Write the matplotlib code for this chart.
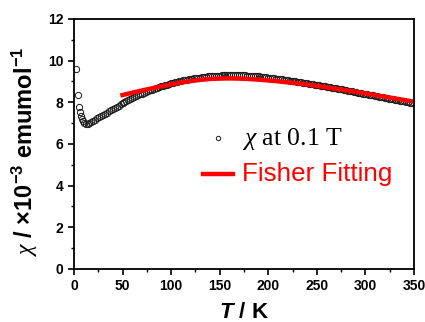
import matplotlib
matplotlib.use("Agg")
import matplotlib.pyplot as plt
import numpy as np

plt.rcParams['font.family'] = 'Liberation Sans'
plt.rcParams['mathtext.fontset'] = 'custom'
plt.rcParams['mathtext.rm'] = 'Liberation Sans:bold'
plt.rcParams['mathtext.it'] = 'Liberation Sans:italic:bold'
plt.rcParams['mathtext.sf'] = 'Liberation Serif:italic'
plt.rcParams['mathtext.bf'] = 'Liberation Sans:bold'

# measured susceptibility (x10^-3 emu/mol) vs temperature (K)
temp_low = [2.5, 4.5, 5.5, 6.2, 7, 8, 9]
chi_low = [9.58, 8.35, 7.78, 7.55, 7.35, 7.20, 7.08]

temp_main = list(range(10, 351, 2))
chi_main = [7.00, 6.97, 6.98, 7.02, 7.07, 7.12, 7.17, 7.23, 7.29, 7.35,
            7.40, 7.46, 7.51, 7.57, 7.62, 7.68, 7.73, 7.79, 7.84, 7.90,
            7.95, 8.00, 8.05, 8.10, 8.15, 8.20, 8.25, 8.29, 8.34, 8.38,
            8.42, 8.46, 8.50, 8.53, 8.57, 8.60, 8.64, 8.67, 8.70, 8.74,
            8.77, 8.80, 8.83, 8.85, 8.88, 8.91, 8.94, 8.96, 8.99, 9.01,
            9.03, 9.05, 9.07, 9.09, 9.10, 9.12, 9.14, 9.15, 9.17, 9.18,
            9.19, 9.21, 9.22, 9.23, 9.24, 9.25, 9.26, 9.26, 9.27, 9.28,
            9.28, 9.29, 9.29, 9.29, 9.30, 9.30, 9.30, 9.30, 9.30, 9.30,
            9.30, 9.29, 9.29, 9.29, 9.28, 9.28, 9.27, 9.26, 9.26, 9.25,
            9.24, 9.23, 9.22, 9.21, 9.20, 9.19, 9.18, 9.16, 9.15, 9.14,
            9.13, 9.11, 9.10, 9.08, 9.07, 9.06, 9.04, 9.03, 9.01, 9.00,
            8.99, 8.97, 8.96, 8.94, 8.93, 8.91, 8.89, 8.88, 8.86, 8.85,
            8.83, 8.81, 8.80, 8.78, 8.77, 8.75, 8.73, 8.72, 8.70, 8.69,
            8.67, 8.65, 8.64, 8.62, 8.60, 8.58, 8.56, 8.54, 8.53, 8.51,
            8.49, 8.47, 8.45, 8.44, 8.42, 8.40, 8.38, 8.36, 8.35, 8.33,
            8.31, 8.29, 8.27, 8.26, 8.24, 8.22, 8.20, 8.18, 8.17, 8.15,
            8.13, 8.11, 8.09, 8.08, 8.06, 8.04, 8.02, 8.00, 7.99, 7.97,
            7.95]

# Fisher model fit
temp_fit = list(range(50, 351, 10))
chi_fit = [8.35, 8.46, 8.57, 8.67, 8.77, 8.86, 8.95, 9.02, 9.08, 9.12,
           9.14, 9.15, 9.14, 9.12, 9.09, 9.05, 9.01, 8.96, 8.91, 8.85,
           8.79, 8.72, 8.65, 8.58, 8.51, 8.43, 8.35, 8.27, 8.19, 8.11, 8.03]

temp = temp_low + temp_main
chi = chi_low + chi_main

fig = plt.figure(figsize=(4.25, 3.22), dpi=100)
ax = fig.add_axes([0.174, 0.1646, 0.8, 0.7764])

ax.plot(temp, chi, 'o', ms=4.5, mfc='none', mec='#1a1a1a', mew=0.7,
        label=r"$\mathsf{\chi}$ at 0.1 T")
ax.plot(temp_fit, chi_fit, '-', color='#ff0000', lw=3.2, label="Fisher Fitting")

ax.set_xlim(0, 350)
ax.set_ylim(0, 12)
ax.set_xticks(np.arange(0, 351, 50))
ax.set_yticks(np.arange(0, 13, 2))
ax.set_xticks(np.arange(25, 350, 50), minor=True)
ax.set_yticks(np.arange(1, 12, 2), minor=True)
ax.tick_params(which='major', direction='out', length=4, width=1.2,
               labelsize=10, top=False, right=False)
ax.tick_params(which='minor', direction='out', length=2.5, width=1.0,
               top=False, right=False)
for lab in ax.get_xticklabels() + ax.get_yticklabels():
    lab.set_fontweight('bold')
for s in ax.spines.values():
    s.set_linewidth(1.3)

ax.set_xlabel(r"$T$ / K", fontsize=16, fontweight='bold', labelpad=6.5)
ax.set_ylabel(r"$\mathsf{\chi}$ / ×10$^{-3}$ emumol$^{-1}$", fontsize=17,
              fontweight='bold')
ax.yaxis.set_label_coords(-0.1, 0.47)

leg = ax.legend(loc='upper left', bbox_to_anchor=(0.379, 0.57), frameon=False,
                borderpad=0, borderaxespad=0, handlelength=1.44,
                handletextpad=0.43, labelspacing=0.45, fontsize=15,
                markerscale=0.7)
t1, t2 = leg.get_texts()
t1.set_fontfamily('Liberation Serif')
t1.set_fontsize(18.5)
t2.set_fontfamily('Liberation Sans')
t2.set_fontsize(18.7)
t2.set_color('#ff0000')

fig.savefig("out.png", dpi=100)
